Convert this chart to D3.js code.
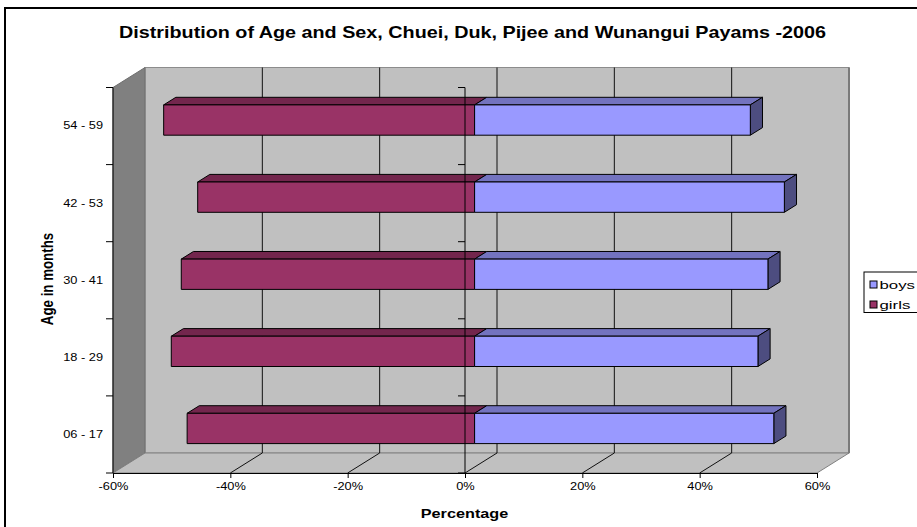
<!DOCTYPE html>
<html>
<head>
<meta charset="utf-8">
<script src="https://cdn.jsdelivr.net/npm/d3@7/dist/d3.min.js"></script>
<style>
  html, body { margin: 0; padding: 0; background: #fff; }
  svg { display: block; }
  text { font-family: "Liberation Sans", Arial, sans-serif; fill: #000; }
</style>
</head>
<body>
<svg id="chart" width="917" height="527"></svg>
<script>
// Age groups (bottom to top) and the share of each sex within the group, in percent
const categories = ["06 - 17", "18 - 29", "30 - 41", "42 - 53", "54 - 59"];
const boys  = [51.0, 48.3, 50.0, 52.8, 47.0];
const girls = [49.0, 51.7, 50.0, 47.2, 53.0];
const xTicks = [-60, -40, -20, 0, 20, 40, 60];
const seriesNames = ["boys", "girls"];

const title = "Distribution of Age and Sex, Chuei, Duk, Pijee and Wunangui Payams -2006";

// Layout of the 3-D plot box
const front = { left: 113, right: 817, top: 87.5, bottom: 473 };
const depth = { dx: 32, dy: -20 };          // offset from front plane to back wall
const barDepth = { t0: 0.3, t1: 0.68 };       // bars sit between these depth fractions
const barRatio = 0.393;                      // bar thickness as share of a category band
const stretch = 1.22;                        // horizontal text stretch
const legendStretch = 1.5;

const colors = {
  boys:  { front: "#9999ff", top: "#7373bf", side: "#4d4d80" },
  girls: { front: "#993366", top: "#73264d", side: "#4d1a33" }
};

const svg = d3.select("#chart");

const x = d3.scaleLinear().domain([-60, 60]).range([front.left, front.right]);
const y = d3.scaleBand().domain(categories.slice().reverse())
  .range([front.top, front.bottom]).padding(0);

const back = {
  left: front.left + depth.dx, right: front.right + depth.dx,
  top: front.top + depth.dy, bottom: front.bottom + depth.dy
};

// Outer chart border
svg.append("rect")
  .attr("x", 5).attr("y", 8).attr("width", 1000).attr("height", 600)
  .attr("fill", "#fff").attr("stroke", "#000").attr("stroke-width", 2);

// Title
svg.append("text")
  .attr("transform", `translate(472.5,38) scale(${stretch},1)`)
  .attr("text-anchor", "middle")
  .style("font-size", "16.2px").style("font-weight", "bold")
  .text(title);

const walls = svg.append("g");

// Back wall
walls.append("rect")
  .attr("x", back.left).attr("y", back.top)
  .attr("width", back.right - back.left).attr("height", back.bottom - back.top)
  .attr("fill", "#c0c0c0").attr("stroke", "#8c8c8c").attr("stroke-width", 1);
walls.append("line")
  .attr("x1", back.right).attr("x2", back.right)
  .attr("y1", back.top).attr("y2", back.bottom)
  .attr("stroke", "#7a7a7a").attr("stroke-width", 2);

// Left side wall
walls.append("polygon")
  .attr("points", [
    [front.left, front.top], [back.left, back.top],
    [back.left, back.bottom], [front.left, front.bottom]
  ].map(p => p.join(",")).join(" "))
  .attr("fill", "#808080").attr("stroke", "#6e6e6e").attr("stroke-width", 1);

// Floor
walls.append("polygon")
  .attr("points", [
    [front.left, front.bottom], [back.left, back.bottom],
    [back.right, back.bottom], [front.right, front.bottom]
  ].map(p => p.join(",")).join(" "))
  .attr("fill", "#c0c0c0").attr("stroke", "#808080").attr("stroke-width", 1);

// Gridlines on back wall and floor
const grid = svg.append("g").attr("stroke", "#111").attr("stroke-width", 1);
grid.selectAll("line.back")
  .data(xTicks.filter(d => d > -60 && d < 60))
  .join("line")
  .attr("x1", d => x(d) + depth.dx).attr("x2", d => x(d) + depth.dx)
  .attr("y1", back.top).attr("y2", back.bottom);
grid.selectAll("line.floor")
  .data(xTicks.filter(d => d > -60 && d < 60))
  .join("line")
  .attr("x1", d => x(d)).attr("y1", front.bottom)
  .attr("x2", d => x(d) + depth.dx).attr("y2", back.bottom);

// Bars: each drawn as front face, top face and (for boys) right end face
const off0 = { dx: depth.dx * barDepth.t0, dy: depth.dy * barDepth.t0 };
const dd = { dx: depth.dx * (barDepth.t1 - barDepth.t0), dy: depth.dy * (barDepth.t1 - barDepth.t0) };
const barH = y.bandwidth() * barRatio;

const rows = categories.map((c, i) => ({ cat: c, boys: boys[i], girls: -girls[i] }));
const pts = arr => arr.map(p => p.join(",")).join(" ");

const barG = svg.append("g").attr("stroke", "#000").attr("stroke-width", 1)
  .attr("stroke-linejoin", "round");

rows.forEach(r => {
  const cy = y(r.cat) + y.bandwidth() / 2;
  const top = cy - barH / 2 + off0.dy;
  const bot = cy + barH / 2 + off0.dy;
  [["girls", r.girls], ["boys", r.boys]].forEach(([name, v]) => {
    const xa = Math.min(x(0), x(v)) + off0.dx;
    const xb = Math.max(x(0), x(v)) + off0.dx;
    const col = colors[name];
    const g = barG.append("g");
    g.append("polygon")
      .attr("points", pts([[xa, top], [xb, top], [xb + dd.dx, top + dd.dy], [xa + dd.dx, top + dd.dy]]))
      .attr("fill", col.top);
    if (name === "boys") {
      g.append("polygon")
        .attr("points", pts([[xb, top], [xb + dd.dx, top + dd.dy], [xb + dd.dx, bot + dd.dy], [xb, bot]]))
        .attr("fill", col.side);
    }
    g.append("rect")
      .attr("x", xa).attr("y", top).attr("width", xb - xa).attr("height", bot - top)
      .attr("fill", col.front);
  });
});

// Category ticks along the zero line and along the wall edge
const bounds = categories.map(c => y(c)).concat([front.bottom]);
const axisLines = svg.append("g").attr("stroke", "#000").attr("stroke-width", 1);
axisLines.append("line")
  .attr("x1", x(0)).attr("x2", x(0))
  .attr("y1", front.top).attr("y2", front.bottom);
axisLines.selectAll("line.t0").data(bounds).join("line")
  .attr("x1", x(0) - 7).attr("x2", x(0)).attr("y1", d => d).attr("y2", d => d);
axisLines.append("line")
  .attr("x1", front.left).attr("x2", front.left)
  .attr("y1", front.top).attr("y2", front.bottom);
axisLines.selectAll("line.tl").data(bounds).join("line")
  .attr("x1", front.left - 7).attr("x2", front.left).attr("y1", d => d).attr("y2", d => d);

// Category labels
const yAxis = svg.append("g")
  .attr("transform", `translate(${front.left},0)`)
  .call(d3.axisLeft(y).tickSize(0).tickPadding(10));
yAxis.select(".domain").remove();
yAxis.selectAll("text")
  .attr("x", -10 / stretch)
  .attr("transform", `scale(${stretch},1)`)
  .style("font-size", "10.5px").style("font-family", null);

// Value axis
const xAxis = svg.append("g")
  .attr("transform", `translate(0,${front.bottom})`)
  .call(d3.axisBottom(x).tickValues(xTicks).tickFormat(d => d + "%").tickSize(5).tickPadding(5).tickSizeOuter(0));
xAxis.select(".domain").attr("stroke", "#000");
xAxis.selectAll("line").attr("stroke", "#000");
xAxis.selectAll("text")
  .attr("transform", `scale(${stretch},1)`)
  .style("font-size", "10.5px").style("font-family", null);

// Axis titles
svg.append("text")
  .attr("transform", `translate(464.5,517.5) scale(${stretch},1)`)
  .attr("text-anchor", "middle")
  .style("font-size", "13.3px").style("font-weight", "bold")
  .text("Percentage");
svg.append("text")
  .attr("transform", `translate(52.5,279) scale(${stretch},1) rotate(-90)`)
  .attr("text-anchor", "middle")
  .style("font-size", "13.3px").style("font-weight", "bold")
  .text("Age in months");

// Legend
const legend = svg.append("g").attr("transform", "translate(864,272)");
legend.append("rect")
  .attr("x", 0).attr("y", 0).attr("width", 80).attr("height", 40.5)
  .attr("fill", "#fff").attr("stroke", "#000").attr("stroke-width", 1);
seriesNames.forEach((name, i) => {
  const it = legend.append("g").attr("transform", `translate(6,${9 + i * 20})`);
  it.append("rect").attr("width", 7).attr("height", 7)
    .attr("fill", colors[name].front).attr("stroke", "#000").attr("stroke-width", 1);
  it.append("text")
    .attr("transform", `translate(9.5,7.5) scale(${legendStretch},1)`)
    .style("font-size", "11.2px")
    .text(name);
});
</script>
</body>
</html>
